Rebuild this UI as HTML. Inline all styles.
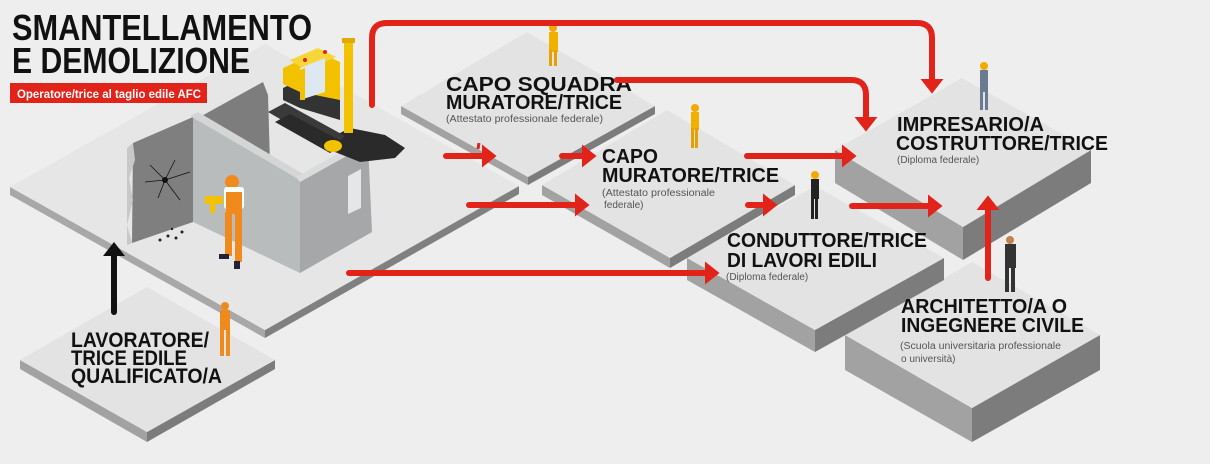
<!DOCTYPE html>
<html><head><meta charset="utf-8"><style>
html,body{margin:0;padding:0;background:#eeeeee;}
svg{display:block;}
.h{font-family:"Liberation Sans",sans-serif;font-weight:bold;fill:#111;}
.s{font-family:"Liberation Sans",sans-serif;fill:#555;font-size:10px;}
</style></head><body>
<svg width="1210" height="464" viewBox="0 0 1210 464" xmlns="http://www.w3.org/2000/svg">
<defs>
<marker id="ar" viewBox="0 0 14 22" refX="1" refY="11" markerWidth="15" markerHeight="23" markerUnits="userSpaceOnUse" orient="auto"><path d="M0,0 L14,11 L0,22 Z" fill="#e2231a"/></marker>
<marker id="ak" viewBox="0 0 14 22" refX="1" refY="11" markerWidth="14" markerHeight="22" markerUnits="userSpaceOnUse" orient="auto"><path d="M0,0 L14,11 L0,22 Z" fill="#111"/></marker>
</defs>
<rect width="1210" height="464" fill="#eeeeee"/>

<!-- Architetto platform -->
<polygon points="845,335 972,408 972,442 845,370" fill="#a2a2a2"/>
<polygon points="972,408 1100,335 1100,370 972,442" fill="#7c7c7c"/>
<polygon points="972,262 1100,335 972,408 845,335" fill="#e3e3e3"/>
<!-- Conduttore platform -->
<polygon points="687,258 815,330 815,352 687,280" fill="#a2a2a2"/>
<polygon points="815,330 944,258 944,280 815,352" fill="#7c7c7c"/>
<polygon points="815,186 944,258 815,330 687,258" fill="#e3e3e3"/>
<!-- Impresario platform -->
<polygon points="835,150 963,227 963,260 835,183" fill="#a2a2a2"/>
<polygon points="963,227 1091,150 1091,183 963,260" fill="#7c7c7c"/>
<polygon points="962,78 1091,150 963,227 835,150" fill="#e3e3e3"/>
<!-- Capo muratore platform -->
<polygon points="542,185 670,258 670,268 542,195" fill="#a2a2a2"/>
<polygon points="670,258 795,185 795,195 670,268" fill="#7c7c7c"/>
<polygon points="667,110 795,185 670,258 542,185" fill="#e3e3e3"/>
<!-- Capo squadra platform -->
<polygon points="401,106 528,177 528,185 401,114" fill="#a2a2a2"/>
<polygon points="528,177 655,106 655,114 528,185" fill="#7c7c7c"/>
<polygon points="527,32 655,106 528,177 401,106" fill="#e3e3e3"/>
<!-- Lavoratore platform -->
<polygon points="20,360 147,432 147,442 20,369" fill="#a2a2a2"/>
<polygon points="147,432 275,360 275,369 147,442" fill="#7c7c7c"/>
<polygon points="147,287 275,360 147,432 20,360" fill="#e3e3e3"/>
<!-- Main platform -->
<polygon points="10,187 265,330 265,338 10,195" fill="#a8a8a8"/>
<polygon points="265,330 519,186 519,194 265,338" fill="#808080"/>
<polygon points="265,44 519,186 265,330 10,187" fill="#e6e6e6"/>

<!-- building -->
<polygon points="198,118 263,82 268,95 270,163 240,180 198,160" fill="#7d7d7d"/>
<polygon points="133,143 193,117 193,222 132,243" fill="#7f7f7f"/>
<polygon points="127,148 133,143 135,160 129,178 133,200 127,225 132,243 127,245" fill="#c8c8c8"/>
<polygon points="193,117 300,180 300,273 193,222" fill="#b9bcbd"/>
<polygon points="190,116 198,112 305,175 300,180" fill="#d4d6d6"/>
<polygon points="300,180 368,143 372,232 300,273" fill="#a5a7a8"/>
<polygon points="296,177 364,139 370,143 300,182" fill="#dadcdc"/>
<polygon points="348,176 361,169 361,208 348,214" fill="#e6e6e6"/>
<g stroke="#111" stroke-width="0.8">
<line x1="165" y1="180" x2="150" y2="165"/><line x1="165" y1="180" x2="175" y2="160"/><line x1="165" y1="180" x2="190" y2="172"/><line x1="165" y1="180" x2="180" y2="200"/><line x1="165" y1="180" x2="158" y2="198"/><line x1="165" y1="180" x2="145" y2="182"/>
</g>
<circle cx="165" cy="180" r="3" fill="#111"/>
<g fill="#222"><circle cx="160" cy="240" r="1.5"/><circle cx="168" cy="236" r="1.5"/><circle cx="176" cy="238" r="1.5"/><circle cx="182" cy="232" r="1.5"/><circle cx="172" cy="229" r="1.2"/></g>
<!-- driller -->
<circle cx="232" cy="182" r="7" fill="#f08a1c"/>
<rect x="224" y="187" width="20" height="22" rx="3" fill="#fff"/>
<rect x="226" y="192" width="16" height="22" fill="#f08a1c"/>
<rect x="225" y="212" width="7" height="44" fill="#f08a1c"/><rect x="235" y="212" width="7" height="50" fill="#f08a1c"/>
<rect x="219" y="254" width="10" height="5" fill="#223"/><rect x="234" y="261" width="6" height="8" fill="#223"/>
<rect x="205" y="196" width="18" height="8" fill="#f2c200"/><rect x="210" y="203" width="5" height="10" fill="#f2c200"/>
<!-- excavator -->
<polygon points="330,138 350,128 385,135 405,148 395,158 360,162 335,152" fill="#2a2a2a"/>
<polygon points="268,112 285,103 345,136 330,148" fill="#3a3a3a"/>
<polygon points="275,122 290,114 345,143 330,153" fill="#2a2a2a"/>
<ellipse cx="333" cy="146" rx="9" ry="6" fill="#f2c200"/>
<polygon points="283,88 300,80 340,100 340,120 300,108 283,100" fill="#333"/>
<polygon points="283,68 318,52 340,62 340,100 300,92 283,84" fill="#f2c200"/>
<polygon points="290,60 318,48 336,57 305,70" fill="#f7d63a"/>
<polygon points="300,68 325,58 325,92 300,100" fill="#dde8f0"/>
<polygon points="300,70 305,68 305,100 300,100" fill="#f2c200"/>
<circle cx="305" cy="60" r="2" fill="#d22"/><circle cx="325" cy="52" r="2" fill="#d22"/>
<rect x="344" y="38" width="9" height="95" fill="#f2c200"/>
<rect x="342" y="38" width="13" height="5" fill="#e0ab00"/>

<!-- title -->
<text class="h" x="12" y="40" font-size="36" textLength="300" lengthAdjust="spacingAndGlyphs">SMANTELLAMENTO</text>
<text class="h" x="12" y="73" font-size="36" textLength="238" lengthAdjust="spacingAndGlyphs">E DEMOLIZIONE</text>
<rect x="10" y="83" width="197" height="20" fill="#e2231a"/>
<text x="17" y="98" font-family="Liberation Sans,sans-serif" font-weight="bold" font-size="12" fill="#fff" textLength="184" lengthAdjust="spacingAndGlyphs">Operatore/trice al taglio edile AFC</text>

<!-- labels -->
<text class="h" x="446" y="91" font-size="20" textLength="186" lengthAdjust="spacingAndGlyphs">CAPO SQUADRA</text>
<text class="h" x="446" y="109" font-size="20" textLength="176" lengthAdjust="spacingAndGlyphs">MURATORE/TRICE</text>
<text class="s" x="446" y="122" textLength="157" lengthAdjust="spacingAndGlyphs">(Attestato professionale federale)</text>

<text class="h" x="602" y="163" font-size="20" textLength="56" lengthAdjust="spacingAndGlyphs">CAPO</text>
<text class="h" x="602" y="182" font-size="20" textLength="177" lengthAdjust="spacingAndGlyphs">MURATORE/TRICE</text>
<text class="s" x="602" y="196" textLength="113" lengthAdjust="spacingAndGlyphs">(Attestato professionale</text>
<text class="s" x="604" y="208">federale)</text>

<text class="h" x="897" y="131" font-size="20" textLength="147" lengthAdjust="spacingAndGlyphs">IMPRESARIO/A</text>
<text class="h" x="896" y="150" font-size="20" textLength="212" lengthAdjust="spacingAndGlyphs">COSTRUTTORE/TRICE</text>
<text class="s" x="897" y="163">(Diploma federale)</text>

<text class="h" x="727" y="247" font-size="20" textLength="200" lengthAdjust="spacingAndGlyphs">CONDUTTORE/TRICE</text>
<text class="h" x="727" y="267" font-size="20" textLength="150" lengthAdjust="spacingAndGlyphs">DI LAVORI EDILI</text>
<text class="s" x="726" y="280">(Diploma federale)</text>

<text class="h" x="901" y="313" font-size="20" textLength="166" lengthAdjust="spacingAndGlyphs">ARCHITETTO/A O</text>
<text class="h" x="901" y="332" font-size="20" textLength="183" lengthAdjust="spacingAndGlyphs">INGEGNERE CIVILE</text>
<text class="s" x="900" y="349" textLength="161" lengthAdjust="spacingAndGlyphs">(Scuola universitaria professionale</text>
<text class="s" x="901" y="362">o università)</text>

<text class="h" x="71" y="347" font-size="21" textLength="138" lengthAdjust="spacingAndGlyphs">LAVORATORE/</text>
<text class="h" x="71" y="365" font-size="21" textLength="116" lengthAdjust="spacingAndGlyphs">TRICE EDILE</text>
<text class="h" x="71" y="383" font-size="21" textLength="151" lengthAdjust="spacingAndGlyphs">QUALIFICATO/A</text>

<!-- small people -->
<g>
<circle cx="553" cy="28" r="4" fill="#f2a900"/><rect x="549" y="32" width="9" height="20" fill="#f2b000"/><rect x="549" y="50" width="3" height="16" fill="#e6a000"/><rect x="554" y="50" width="3" height="16" fill="#e6a000"/>
<circle cx="695" cy="108" r="4" fill="#f2a900"/><rect x="691" y="112" width="8" height="18" fill="#f2b000"/><rect x="691" y="128" width="3" height="20" fill="#e6a000"/><rect x="695" y="128" width="3" height="20" fill="#e6a000"/>
<circle cx="815" cy="175" r="4" fill="#f2a900"/><rect x="811" y="179" width="8" height="20" fill="#222"/><rect x="811" y="197" width="3" height="22" fill="#222"/><rect x="815" y="197" width="3" height="22" fill="#222"/>
<circle cx="984" cy="66" r="4" fill="#f2a900"/><rect x="980" y="70" width="8" height="22" fill="#6b7a90"/><rect x="980" y="90" width="3" height="20" fill="#6b7a90"/><rect x="985" y="90" width="3" height="20" fill="#6b7a90"/>
<circle cx="1010" cy="240" r="4" fill="#c08050"/><rect x="1005" y="244" width="11" height="24" fill="#333"/><rect x="1005" y="266" width="4" height="26" fill="#333"/><rect x="1011" y="266" width="4" height="26" fill="#333"/>
<circle cx="225" cy="306" r="4" fill="#f08a1c"/><rect x="220" y="310" width="10" height="20" fill="#f08a1c"/><rect x="220" y="328" width="4" height="28" fill="#f08a1c"/><rect x="226" y="328" width="4" height="28" fill="#f08a1c"/>
</g>

<!-- arrows -->
<g fill="none" stroke="#e2231a" stroke-width="6" stroke-linecap="round">
<path d="M372,105 L372,38 Q372,23 387,23 L917,23 Q932,23 932,38 L932,80" marker-end="url(#ar)"/>
<path d="M617,80 L851,80 Q866,80 866,95 L866,118" marker-end="url(#ar)"/>
<path d="M446,156 L483,156" marker-end="url(#ar)"/>
<path d="M562,156 L583,156" marker-end="url(#ar)"/>
<path d="M747,156 L843,156" marker-end="url(#ar)"/>
<path d="M469,205 L576,205" marker-end="url(#ar)"/>
<path d="M748,205 L764,205" marker-end="url(#ar)"/>
<path d="M852,206 L929,206" marker-end="url(#ar)"/>
<path d="M349,273 L706,273" marker-end="url(#ar)"/>
<path d="M988,278 L988,209" marker-end="url(#ar)"/>
</g>
<line x1="479" y1="143" x2="478" y2="149" stroke="#e2231a" stroke-width="3"/>
<path d="M114,312 L114,255" stroke="#111" stroke-width="6" stroke-linecap="round" marker-end="url(#ak)"/>
</svg>
</body></html>
